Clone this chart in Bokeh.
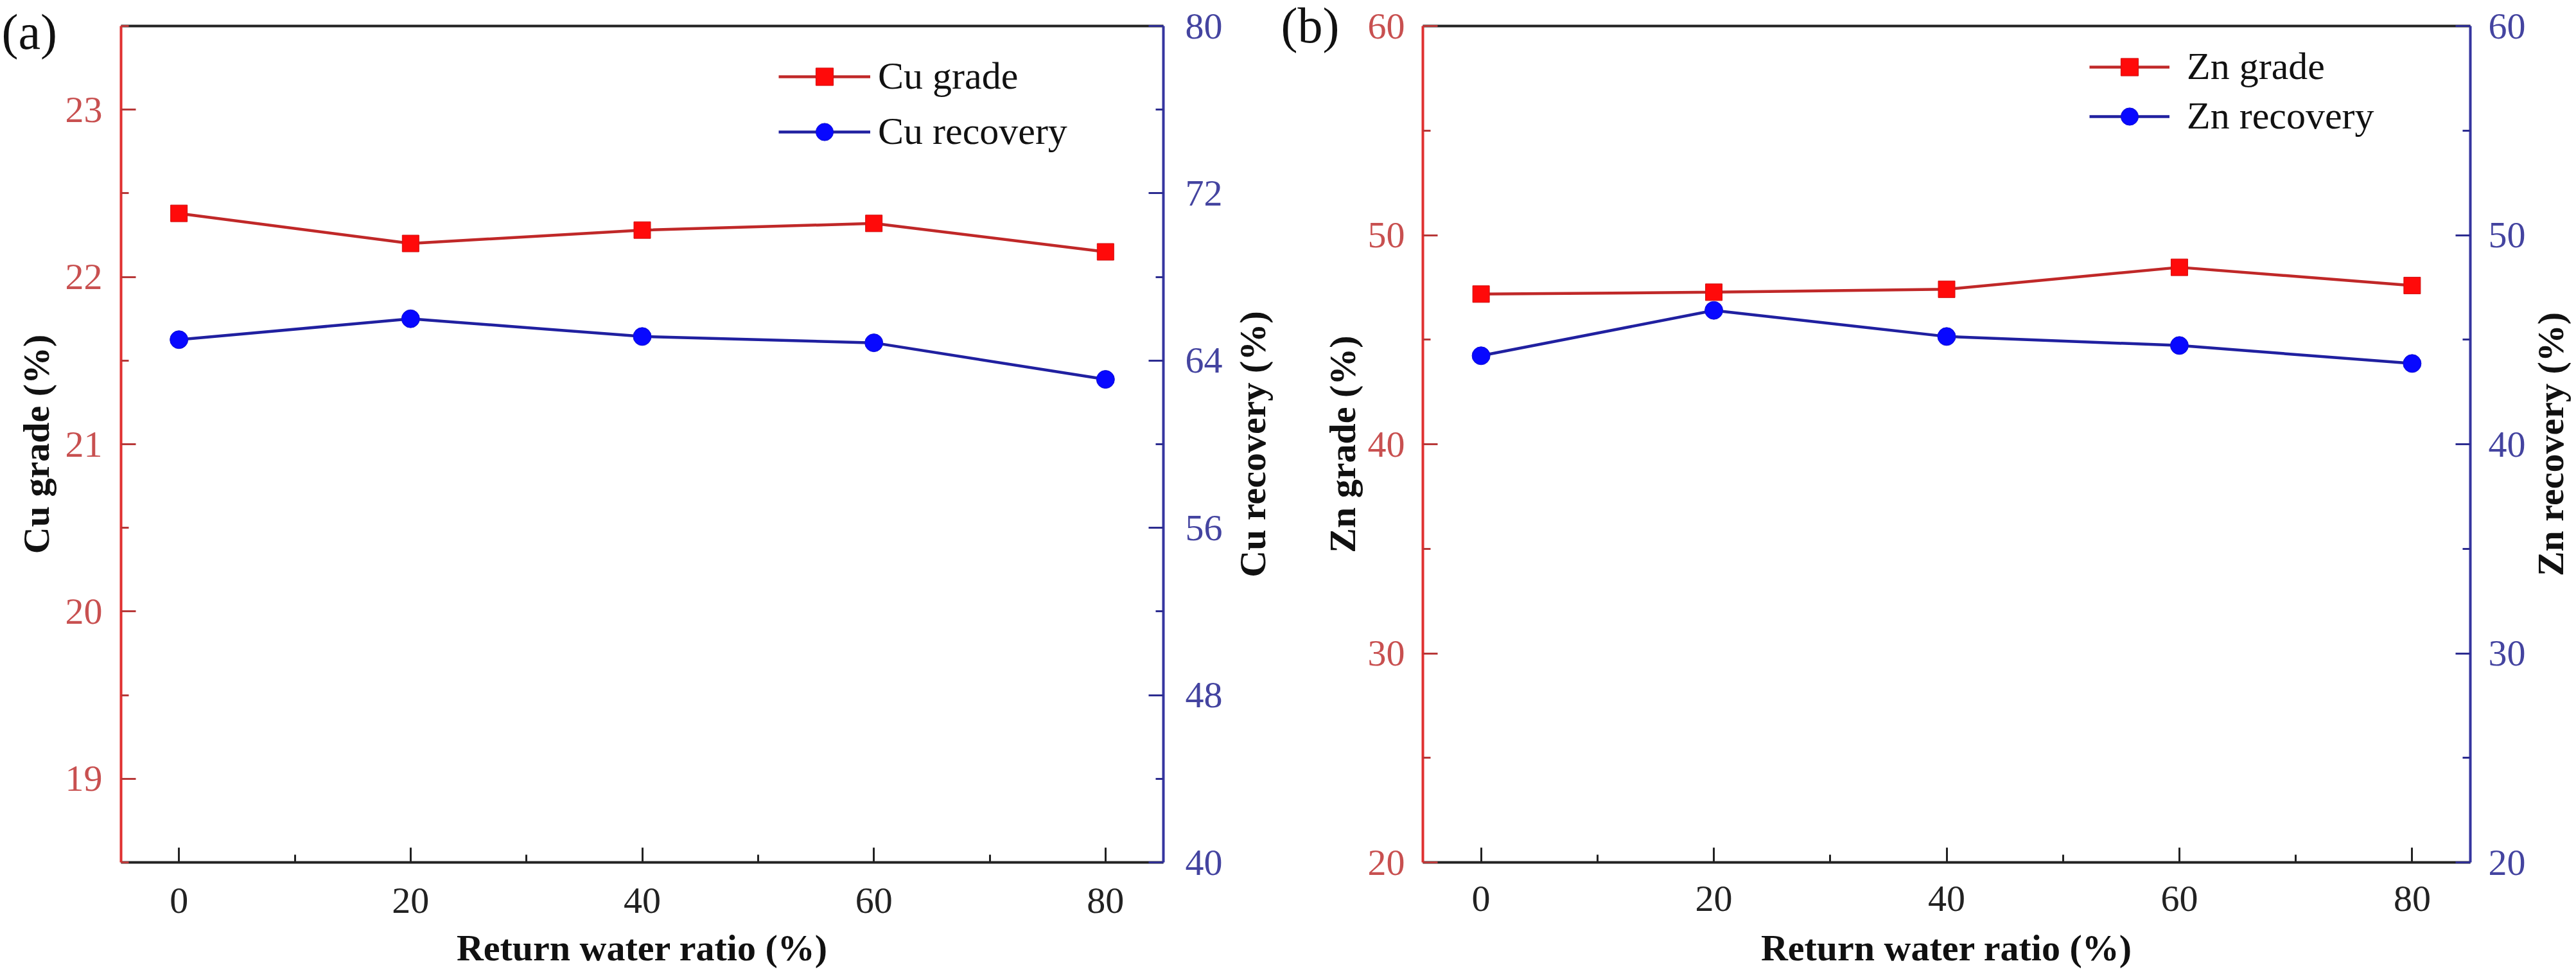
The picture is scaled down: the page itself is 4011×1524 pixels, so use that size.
from bokeh.plotting import figure
from bokeh.models import (Range1d, LinearAxis, FixedTicker, Legend, LegendItem, Title)
from bokeh.layouts import row
from bokeh.embed import file_html
from bokeh.resources import INLINE

# ---- data ----
ratio = [0, 20, 40, 60, 80]
cu_grade = [22.38, 22.20, 22.28, 22.32, 22.15]
cu_recovery = [65.0, 66.0, 65.15, 64.85, 63.1]
zn_grade = [47.18, 47.27, 47.41, 48.46, 47.59]
zn_recovery = [44.23, 46.40, 45.15, 44.72, 43.86]

x_major = [0, 20, 40, 60, 80]
x_minor = [10, 30, 50, 70]
cu_grade_major = [19, 20, 21, 22, 23]
cu_grade_minor = [18.5, 19.5, 20.5, 21.5, 22.5, 23.5]
cu_rec_major = [40, 48, 56, 64, 72, 80]
cu_rec_minor = [44, 52, 60, 68, 76]
zn_major = [20, 30, 40, 50, 60]
zn_minor = [25, 35, 45, 55]

FONT = "Liberation Serif"
RED_AX = "#e03030"
RED_TICK = "#b83838"
RED_LBL = "#c85050"
BLUE_AX = "#3535a0"
BLUE_TICK = "#2c2c90"
BLUE_LBL = "#4444a0"
BLACK = "#222222"
RED_LINE = "#c02828"
BLUE_LINE = "#2020a0"
RED_MK = "#ff0a0a"
BLUE_MK = "#0808ff"

H = 1520
TOP = 40
BOTTOM = 178


def style_axis(ax, color, tick_color, lbl_color, standoff, label_standoff):
    ax.axis_line_color = color
    ax.axis_line_width = 4
    ax.major_tick_line_color = tick_color
    ax.minor_tick_line_color = tick_color
    ax.major_tick_line_width = 3
    ax.minor_tick_line_width = 3
    ax.major_tick_in = 23
    ax.major_tick_out = 0
    ax.minor_tick_in = 12
    ax.minor_tick_out = 0
    ax.major_label_text_font = FONT
    ax.major_label_text_font_size = "58px"
    ax.major_label_text_color = lbl_color
    ax.major_label_standoff = standoff
    ax.axis_label_text_font = FONT
    ax.axis_label_text_font_size = "58px"
    ax.axis_label_text_font_style = "bold"
    ax.axis_label_text_color = "#111111"
    ax.axis_label_standoff = label_standoff


def make_panel(width, borders, yl, yr, ymaj_l, ymin_l, ymaj_r, ymin_r,
               gy, ry, gname, rname, ylabel_l, standoffs, leg, tag):
    bl, br = borders
    p = figure(width=width, height=H, output_backend="svg",
               toolbar_location=None, x_range=Range1d(-5, 85),
               y_range=Range1d(*yl), min_border_left=bl, min_border_right=br,
               min_border_top=TOP, min_border_bottom=BOTTOM,
               x_axis_location=None, y_axis_location=None)
    p.extra_y_ranges = {"right": Range1d(*yr)}
    p.outline_line_color = None
    p.xgrid.visible = False
    p.ygrid.visible = False
    p.background_fill_color = "white"
    p.border_fill_color = "white"

    (sl, sl_lab, sr, sb, sb_lab) = standoffs

    xa = LinearAxis(ticker=FixedTicker(ticks=x_major, minor_ticks=x_minor),
                    axis_label="Return water ratio (%)")
    style_axis(xa, BLACK, BLACK, BLACK, sb, sb_lab)
    p.add_layout(xa, "below")

    top = LinearAxis(ticker=FixedTicker(ticks=[], minor_ticks=[]))
    top.axis_line_color = BLACK
    top.axis_line_width = 4
    top.major_tick_line_color = None
    top.minor_tick_line_color = None
    top.major_label_text_font_size = "0px"
    top.major_label_standoff = 0
    p.add_layout(top, "above")

    ya = LinearAxis(ticker=FixedTicker(ticks=ymaj_l, minor_ticks=ymin_l),
                    axis_label=ylabel_l)
    style_axis(ya, RED_AX, RED_TICK, RED_LBL, sl, sl_lab)
    p.add_layout(ya, "left")

    yb = LinearAxis(y_range_name="right",
                    ticker=FixedTicker(ticks=ymaj_r, minor_ticks=ymin_r))
    style_axis(yb, BLUE_AX, BLUE_TICK, BLUE_LBL, sr, 0)
    p.add_layout(yb, "right")

    l1 = p.line(ratio, gy, line_color=RED_LINE, line_width=4.5)
    m1 = p.scatter(ratio, gy, marker="square", size=26, fill_color=RED_MK,
                   line_color="#d01010", line_width=1)
    l2 = p.line(ratio, ry, y_range_name="right", line_color=BLUE_LINE,
                line_width=4.5)
    m2 = p.scatter(ratio, ry, y_range_name="right", marker="circle", size=28,
                   fill_color=BLUE_MK, line_color="#1010d0", line_width=1)

    (vx, vy, gw, lstand, spacing) = leg
    legend = Legend(items=[LegendItem(label=gname, renderers=[l1, m1]),
                           LegendItem(label=rname, renderers=[l2, m2])],
                    location=(vx, vy))
    legend.label_text_font = FONT
    legend.label_text_font_size = "60px"
    legend.label_text_color = "#111111"
    legend.glyph_width = gw
    legend.glyph_height = 68
    legend.label_height = 68
    legend.label_standoff = lstand
    legend.spacing = spacing
    legend.padding = 0
    legend.margin = 0
    legend.border_line_color = None
    legend.background_fill_alpha = 0
    p.add_layout(legend, "center")

    # panel tag "(a)" / "(b)" drawn at the top-left corner
    p.add_layout(Title(text=tag[0], align="left", offset=tag[1],
                       standoff=tag[2], vertical_align="bottom",
                       text_font=FONT, text_font_size="78px",
                       text_font_style="normal", text_color="#111111"),
                 "above")
    return p


def title_strip(width, border_left, text, standoff):
    # narrow strip that only carries a vertical axis title (reads upward)
    s = figure(width=width, height=H, output_backend="svg",
               toolbar_location=None, x_range=Range1d(0, 1),
               y_range=Range1d(0, 1), min_border_left=border_left,
               min_border_right=0, min_border_top=TOP,
               min_border_bottom=BOTTOM, x_axis_location=None,
               y_axis_location=None)
    s.outline_line_color = None
    s.xgrid.visible = False
    s.ygrid.visible = False
    s.background_fill_color = "white"
    s.border_fill_color = "white"
    ax = LinearAxis(ticker=FixedTicker(ticks=[], minor_ticks=[]),
                    axis_label=text)
    style_axis(ax, None, None, BLACK, 0, standoff)
    ax.axis_line_color = None
    ax.major_tick_line_color = None
    ax.minor_tick_line_color = None
    ax.major_label_text_font_size = "0px"
    s.add_layout(ax, "left")
    return s


pa = make_panel(1908, (188, 97), (18.5, 23.5), (40, 80),
                cu_grade_major, cu_grade_minor, cu_rec_major, cu_rec_minor,
                cu_grade, cu_recovery, "Cu grade", "Cu recovery",
                "Cu grade (%)",
                (29, 10, 34, 40, 19),
                (1024, 1103, 143, 12, 17),
                ("(a)", -186, -104))

ma = title_strip(82, 78, "Cu recovery (%)", 4)

pb = make_panel(1945, (225, 88), (20, 60), (20, 60),
                zn_major, zn_minor, zn_major, zn_minor,
                zn_grade, zn_recovery, "Zn grade", "Zn recovery",
                "Zn grade (%)",
                (28, 4, 28, 37, 22),
                (1038, 1127, 125, 27, 8),
                ("(b)", -221, -84))

rb = title_strip(73, 48, "Zn recovery (%)", 0)

layout = row(pa, ma, pb, rb)
open("out.html", "w").write(file_html(layout, INLINE))
